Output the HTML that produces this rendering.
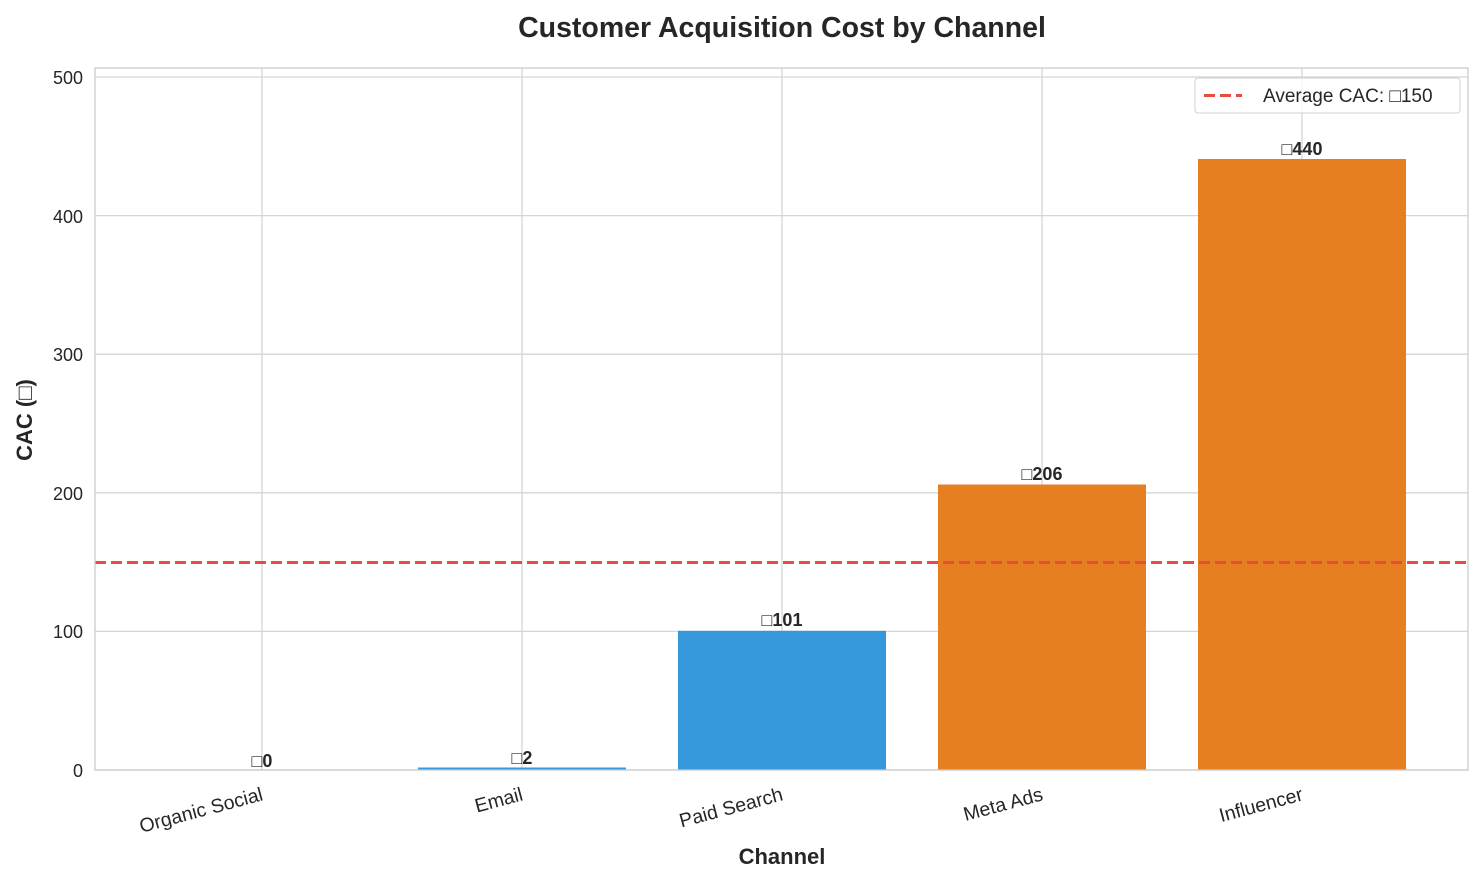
<!DOCTYPE html>
<html><head><style>body{margin:0;background:#fff}svg{display:block}text{font-family:"Liberation Sans",Arial,sans-serif;fill:#262626}</style></head>
<body>
<svg width="1484" height="885" xmlns="http://www.w3.org/2000/svg">
<rect width="1484" height="885" fill="#fff"/>
<g stroke="#d5d5d5" stroke-width="1.3">
<line x1="95" x2="1468" y1="770" y2="770"/>
<line x1="95" x2="1468" y1="631.4" y2="631.4"/>
<line x1="95" x2="1468" y1="492.8" y2="492.8"/>
<line x1="95" x2="1468" y1="354.2" y2="354.2"/>
<line x1="95" x2="1468" y1="215.6" y2="215.6"/>
<line x1="95" x2="1468" y1="77" y2="77"/>
<line x1="262" x2="262" y1="68" y2="770"/>
<line x1="522" x2="522" y1="68" y2="770"/>
<line x1="782" x2="782" y1="68" y2="770"/>
<line x1="1042" x2="1042" y1="68" y2="770"/>
<line x1="1302" x2="1302" y1="68" y2="770"/>
</g>
<rect x="418" y="767.5" width="208" height="2.5" fill="#3498db"/>
<rect x="678" y="630.8" width="208" height="139.2" fill="#3498db"/>
<rect x="938" y="484.5" width="208" height="285.5" fill="#e67e22"/>
<rect x="1198" y="159" width="208" height="611" fill="#e67e22"/>
<line x1="95" x2="1468" y1="562.5" y2="562.5" stroke="#e74c3c" stroke-width="3" stroke-dasharray="11,5"/>
<rect x="95" y="68" width="1373" height="702" fill="none" stroke="#cccccc" stroke-width="1.3"/>
<g font-size="18" font-weight="bold" text-anchor="middle">
<text x="262" y="767">□0</text>
<text x="522" y="764">□2</text>
<text x="782" y="626">□101</text>
<text x="1042" y="480">□206</text>
<text x="1302" y="155">□440</text>
</g>
<g font-size="18" text-anchor="end">
<text x="83" y="777">0</text>
<text x="83" y="638">100</text>
<text x="83" y="500">200</text>
<text x="83" y="361">300</text>
<text x="83" y="223">400</text>
<text x="83" y="84">500</text>
</g>
<g font-size="19.5" text-anchor="end">
<text transform="translate(264,800) rotate(-15)">Organic Social</text>
<text transform="translate(524,800) rotate(-15)">Email</text>
<text transform="translate(784,800) rotate(-15)">Paid Search</text>
<text transform="translate(1044,800) rotate(-15)">Meta Ads</text>
<text transform="translate(1304,800) rotate(-15)">Influencer</text>
</g>
<text x="782" y="864" font-size="22" font-weight="bold" text-anchor="middle">Channel</text>
<text transform="translate(32,420) rotate(-90)" font-size="22" font-weight="bold" text-anchor="middle">CAC (□)</text>
<text x="782" y="37" font-size="28.5" font-weight="bold" text-anchor="middle">Customer Acquisition Cost by Channel</text>
<rect x="1195" y="78" width="265" height="35" rx="3" fill="#fff" fill-opacity="0.8" stroke="#d0d0d0"/>
<line x1="1204" x2="1242" y1="95.5" y2="95.5" stroke="#e74c3c" stroke-width="3" stroke-dasharray="11,5"/>
<text x="1263" y="102" font-size="19">Average CAC: □150</text>
</svg>
</body></html>
